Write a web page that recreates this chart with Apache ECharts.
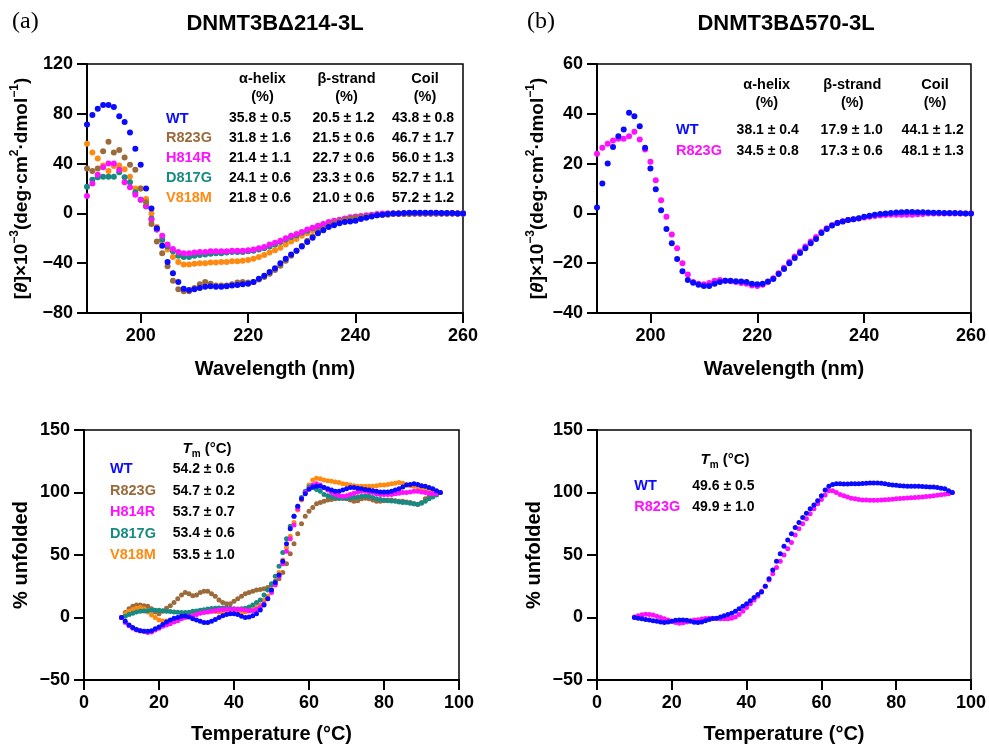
<!DOCTYPE html>
<html><head><meta charset="utf-8">
<script src="https://cdn.jsdelivr.net/npm/echarts@6/dist/echarts.min.js"></script>
<style>html,body{margin:0;padding:0;background:#fff}#c{width:989px;height:745px}</style>
</head><body><div id="c"></div>
<script>
// ---------- DATA ----------
const wavelength = [190,191,192,193,194,195,196,197,198,199,200,201,202,203,204,205,206,207,208,209,210,211,212,213,214,215,216,217,218,219,220,221,222,223,224,225,226,227,228,229,230,231,232,233,234,235,236,237,238,239,240,241,242,243,244,245,246,247,248,249,250,251,252,253,254,255,256,257,258,259,260];
const temperature = [10,11,12,13,14,15,16,17,18,19,20,21,22,23,24,25,26,27,28,29,30,31,32,33,34,35,36,37,38,39,40,41,42,43,44,45,46,47,48,49,50,51,52,53,54,55,56,57,58,59,60,61,62,63,64,65,66,67,68,69,70,71,72,73,74,75,76,77,78,79,80,81,82,83,84,85,86,87,88,89,90,91,92,93,94,95];

// Panel (a) top: CD spectra, DNMT3BΔ214-3L
const cdA_WT = [71.5,79,84,87,87,85.5,78,73.5,65,52, 39,20,4,-12,-26,-39,-48,-55,-60.5,-61.5, -61,-60,-59,-58.5,-59,-59,-58.5,-58,-57.5,-57, -56.5,-55,-52.5,-50,-47,-44,-40,-36.5,-33,-30, -26.5,-23,-19.5,-16,-13.5,-11,-9.5,-8,-7,-6.5, -6,-4.5,-3.5,-2.5,-1.5,-1,-0.5,0,0,0.3, 0.5,0.5,0.5,0.5,0.5,0.5,0.3,0.3,0.3,0, 0];
const cdA_R823G = [36,34,36,50,57.5,49,51,45,39,35, 20,9,-8.5,-22.5,-32,-42.5,-54,-61,-62.5,-62.5, -60,-57,-55,-56.5,-58,-58,-58,-57,-55.5,-55, -55.5,-55,-53,-51,-48.5,-45.5,-42,-38,-34,-30, -26,-22,-18.5,-15,-12.5,-10,-8,-6.5,-5,-4, -3.5,-3,-2.5,-2,-1.5,-1,-1,-0.5,-0.5,-0.5, -0.5,0,0,0,0,0,0,0,0,0, 0];
const cdA_H814R = [14,24,31,37,40,40,35,25,21,15, 11,6,-5,-13,-18,-25,-28.5,-31,-32,-32, -31.5,-31,-31,-30.5,-30.5,-30.5,-30.5,-30,-30,-30, -29.5,-29,-28,-27,-25,-23.5,-22,-20,-18,-16.5, -15,-13,-11.5,-10,-8.5,-7,-6,-5,-4,-3, -2.5,-2,-1.5,-1,-0.5,0,0,0,0,0, 0,0,0,0,0,0,0,0,0,0, 0];
const cdA_D817G = [21.5,27,29,29.5,29.5,29.5,33,29,25,17, 11,5.5,-4,-13,-21,-26.5,-30.5,-34,-35,-35, -34,-33.5,-33,-32.5,-32,-32,-31.5,-31,-31,-31, -30.5,-30,-29,-28,-26.5,-25,-23,-21,-19,-17.5, -15.5,-14,-12,-10.5,-9,-7.5,-6.5,-5.5,-4.5,-3.5, -3,-2.5,-2,-1.5,-1,-0.5,0,0,0,0, 0,0,0,0,0,0,0,0,0,0, 0];
const cdA_V818M = [56,49,44,38.5,34,38,38.5,35.5,29.5,20, 20,11.5,0,-11,-22,-29,-35,-39,-41,-41, -40.5,-40,-40,-39.5,-39.5,-39,-39,-38.5,-38.5,-38, -37.5,-36.5,-35,-33.5,-31.5,-29.5,-27.5,-25,-22.5,-20.5, -18,-16,-14,-12,-10.5,-9,-7.5,-6.5,-5.5,-4.5, -3.5,-3,-2.5,-2,-1.5,-1,-0.5,0,0,0, 0,0,0,0,0,0,0,0,0,0, 0];

// Panel (b) top: CD spectra, DNMT3BΔ570-3L
const cdB_WT = [2.4,12,20,26.7,31,33.7,40.4,39,35,26.4, 18,9.7,1.3,-6.3,-12,-18.3,-23.2,-26.7,-27.9,-28.7, -29.2,-29.2,-28.3,-27.6,-27,-27,-27.2,-27.3,-27.6,-28.3, -28.5,-28.3,-27.3,-26.3,-24.3,-22.3,-20,-17.9,-15.9,-14, -12,-10.3,-7.9,-6.3,-4.9,-3.9,-3.3,-2.7,-2.3,-1.9, -1.3,-0.9,-0.5,-0.2,0,0.2,0.4,0.5,0.6,0.6, 0.5,0.5,0.4,0.3,0.3,0.2,0.2,0.2,0.1,0, 0];
const cdB_R823G = [24,26.4,28,29.3,30,30,31,32.8,29.7,25.7, 20.7,13.3,5.3,-1.3,-8.5,-14,-20,-24.5,-27.5,-28.3, -28.5,-28,-27,-26.7,-27,-27.2,-27.6,-28,-28.3,-29, -29.2,-28.7,-27.5,-26,-24,-21.8,-19.5,-17.3,-15.3,-13.3, -11.3,-9.5,-7.5,-6,-4.8,-3.8,-3.2,-2.7,-2.3,-2, -1.6,-1.3,-1,-0.8,-0.6,-0.5,-0.5,-0.5,-0.5,-0.5, -0.3,-0.2,0,0,0,0,0,0,0,0, 0];

// Panel (a) bottom: thermal unfolding
const tmA_WT = [0,-3,-6,-8,-9.5,-10.5,-11,-11,-10.5,-9, -7.5,-5.5,-3.5,-2,-0.5,0,1,1.3,0.5,-1, -2,-3,-4,-4,-3,-1.5,0,1.5,2.5,3, 3,2.5,1,0,0.5,1.5,3,6,10,15, 22,28,34,45,59,71,81,89,95,99, 102.7,104.5,105,105,104,103,102,101,101,102, 103,104,104,103.5,103,102.5,102,101.5,101,100.5, 100.5,100.5,101,102,103,104.5,106,106.5,107,106.5, 105.5,105,104,103,101.5,100];
const tmA_R823G = [0,4,7,9,10,10,9.5,9,7,4.5, 3,5,7.5,9.5,12,15,18,20,19,17.5, 18,20,21,21,19,17,14,12,11,11, 13,15,17,19,20,21,22,22.5,23,24, 26,29,31,36,43,51,59,67,75,81, 85,88,91,92,93,94,94.5,95,95.5,95.5, 95,94,93,93.5,95,95.5,95,94,93,93, 93.5,94,94,93.5,93,93,92.5,92,91,90.5, 92,95,97,98,99,100];
const tmA_H814R = [0,-4,-6.5,-8.5,-10,-10.5,-11,-12,-11.5,-10, -8.5,-7,-6,-5,-3.5,-2.5,-1,0,1,1.5, 2.5,3.5,4,4.5,5,5.5,6,6.5,6.7,6.7, 6.7,6.7,6.5,6,5.5,5.5,6.5,8,11,15, 20,26,33,43,53,63,74,87,95,100, 103,106,107,106,104,102,100,98.5,97.5,97, 97.5,98.5,99.5,100.5,101,101,100.5,100,99,98.5, 98.5,98.5,98.5,99,99.5,100,100,100.5,101,101, 100.5,100,99.5,99,99.5,100];
const tmA_D817G = [0,1,2.5,3.5,4.5,5,5.3,5.5,5.8,5.9, 5.8,5.5,5,4.8,4.5,4.2,4,4,4.3,5, 5.3,5.8,6.3,6.8,7.2,7.5,7.6,7.6,7.6,7.4, 7,6.8,7,7.5,8.5,10,12,14,18,22, 27,33,41,52,63,73,81,89,96,101, 104.5,104,102.5,101,98.5,97.5,96.5,96,95.5,95.5, 95.5,95.5,96,96.5,97,97.3,97,96,95,94.5, 94,93.5,93.3,93,92.5,92,92,91.5,91,90.7, 91.5,93,95,96.5,98,100];
const tmA_V818M = [0,3,5,6.5,7.5,8,7,4.5,2,0, -2,-2.7,-2.8,-2.5,-2,-1,0.5,2,3,4, 4.8,5.3,5.5,5.3,5,4.8,4.5,4.2,4,4, 4,4,4,4.5,5.5,6.5,8,10,14,17, 22,27,36,46,56,65,76,86,94,100, 106,110,111.5,111,110,109.5,109,108.5,108,107, 106.7,106,105.5,105,105,105,105,105,105.5,106, 106,106.5,107,107.5,108,107.5,106.5,105.5,105,104.5, 103.5,102.7,102,101.5,100.8,100];

// Panel (b) bottom: thermal unfolding
const tmB_WT = [0,-0.5,-1,-1.5,-1.9,-2.5,-3,-3.5,-4,-3.5, -3,-2.2,-1.9,-1.9,-2.2,-3,-3.8,-4,-3.5,-2.5, -1.5,-0.8,-0.5,0.5,1.5,2.5,3.5,5,7,9, 11,13.5,16,18.5,20.5,25,31,38,45,51, 57,62,67,72,76,80,83.5,87,90,93.5, 97.5,102,105,106.5,107,107,106.8,106.8,107,107, 107,107.2,107.4,107.6,107.7,107.7,107.5,107,106.5,106, 105.9,105.5,105.3,105,105,105,105,104.8,104.6,104.5, 104.5,104,103.5,103,101.5,100];
const tmB_R823G = [0.5,1.5,2.3,2.7,2.5,2,1,0,-1,-2, -3,-4,-4.5,-4.2,-3.5,-2.5,-2,-1.8,-1.2,-0.8, -0.5,-0.5,-0.8,-1,-1,-1,-0.5,0.5,2.5,5, 8,11,14,17,21,25,30,35,40,45, 50,55,60,66,71,75,79,83,87,91, 94.5,98,101.5,101.5,100,98.5,97.5,96.5,95.5,95, 94.5,94,94,93.9,93.9,93.9,94,94.2,94.5,94.7, 95,95.2,95.4,95.6,95.8,96,96.2,96.5,96.8,97.1, 97.4,97.8,98.2,98.6,99,100];

// Tick values
const wlTicks = [200,220,240,260];

// Table texts
const namesA = ['WT','R823G','H814R','D817G','V818M'];
const helixA = ['35.8 ± 0.5','31.8 ± 1.6','21.4 ± 1.1','24.1 ± 0.6','21.8 ± 0.6'];
const strandA = ['20.5 ± 1.2','21.5 ± 0.6','22.7 ± 0.6','23.3 ± 0.6','21.0 ± 0.6'];
const coilA = ['43.8 ± 0.8','46.7 ± 1.7','56.0 ± 1.3','52.7 ± 1.1','57.2 ± 1.2'];
const namesB = ['WT','R823G'];
const helixB = ['38.1 ± 0.4','34.5 ± 0.8'];
const strandB = ['17.9 ± 1.0','17.3 ± 0.6'];
const coilB = ['44.1 ± 1.2','48.1 ± 1.3'];
const tmValsA = ['54.2 ± 0.6','54.7 ± 0.2','53.7 ± 0.7','53.4 ± 0.6','53.5 ± 1.0'];
const tmValsB = ['49.6 ± 0.5','49.9 ± 1.0'];

// ---------- STYLE ----------
const FF = "'Liberation Sans', Arial, Helvetica, sans-serif";
const COL = {WT:'#0a0aff', R823G:'#9c6b3c', H814R:'#ff10ff', D817G:'#178a82', V818M:'#ff8a12'};

const minusFmt = v => (v < 0 ? '\u2212' + Math.abs(v) : String(v));
const LBL = {color: '#000', fontSize: 18, fontWeight: 'bold', fontFamily: FF, margin: 14, formatter: minusFmt};

function axisBase(extra) {
  return Object.assign({
    type: 'value',
    axisLine: {show: true, onZero: false, lineStyle: {color: '#000', width: 2}},
    axisTick: {show: true, length: 10, lineStyle: {color: '#000', width: 2}},
    axisLabel: LBL,
    splitLine: {show: false},
    nameLocation: 'middle',
    nameTextStyle: {color: '#000', fontSize: 20, fontWeight: 'bold', fontFamily: FF}
  }, extra);
}

const thetaName = '{n|[}{i|θ}{n|]×10}{s|−3}{n|(deg·cm}{s|2}{n|·dmol}{s|−1}{n|)}';
const thetaRich = {
  n: {fontSize: 19, fontWeight: 'bold', fontFamily: FF, color: '#000', lineHeight: 26},
  i: {fontSize: 19, fontWeight: 'bold', fontStyle: 'italic', fontFamily: FF, color: '#000', lineHeight: 26},
  s: {fontSize: 12, fontWeight: 'bold', fontFamily: FF, color: '#000', lineHeight: 12, verticalAlign: 'top'}
};

const wlX = (gi) => axisBase({
  gridIndex: gi, min: 190, max: 260,
  axisTick: {show: true, length: 10, lineStyle: {color: '#000', width: 2}, customValues: wlTicks},
  axisLabel: Object.assign({}, LBL, {customValues: wlTicks}),
  name: 'Wavelength (nm)', nameGap: 46
});
const tX = (gi) => axisBase({gridIndex: gi, min: 0, max: 100, interval: 20, name: 'Temperature (°C)', nameGap: 44});

const xAxes = [wlX(0), wlX(1), tX(2), tX(3)];
const yAxes = [
  axisBase({gridIndex: 0, min: -80, max: 120, interval: 40, name: thetaName, nameGap: 52, nameTextStyle: {rich: thetaRich}}),
  axisBase({gridIndex: 1, min: -40, max: 60, interval: 20, name: thetaName, nameGap: 46, nameTextStyle: {rich: thetaRich}}),
  axisBase({gridIndex: 2, min: -50, max: 150, interval: 50, name: '% unfolded', nameGap: 53}),
  axisBase({gridIndex: 3, min: -50, max: 150, interval: 50, name: '% unfolded', nameGap: 53})
];

const gridStyle = {show: true, borderColor: '#000', borderWidth: 1.5, backgroundColor: 'transparent'};
const grids = [
  Object.assign({left: 87, top: 64, width: 376, height: 249}, gridStyle),
  Object.assign({left: 597, top: 64, width: 376, height: 249}, gridStyle),
  Object.assign({left: 84, top: 430, width: 375, height: 250}, gridStyle),
  Object.assign({left: 597, top: 430, width: 375, height: 250}, gridStyle)
];

const pts = (xs, ys) => xs.map((x, i) => [x, ys[i]]);
function sc(gi, xs, ys, key, size) {
  return {type: 'scatter', xAxisIndex: gi, yAxisIndex: gi, data: pts(xs, ys), symbolSize: size,
    itemStyle: {color: COL[key], opacity: 1}, silent: true, animation: false};
}
const series = [
  sc(0, wavelength, cdA_V818M, 'V818M', 6),
  sc(0, wavelength, cdA_D817G, 'D817G', 6),
  sc(0, wavelength, cdA_H814R, 'H814R', 6),
  sc(0, wavelength, cdA_R823G, 'R823G', 6),
  sc(0, wavelength, cdA_WT, 'WT', 6),
  sc(1, wavelength, cdB_R823G, 'H814R', 6),
  sc(1, wavelength, cdB_WT, 'WT', 6),
  sc(2, temperature, tmA_R823G, 'R823G', 5),
  sc(2, temperature, tmA_V818M, 'V818M', 5),
  sc(2, temperature, tmA_D817G, 'D817G', 5),
  sc(2, temperature, tmA_H814R, 'H814R', 5),
  sc(2, temperature, tmA_WT, 'WT', 5),
  sc(3, temperature, tmB_R823G, 'H814R', 5),
  sc(3, temperature, tmB_WT, 'WT', 5)
];

// ---------- TEXT ----------
function txt(x, y, text, color, align, size, family, weight) {
  const font = (weight || 'bold') + ' ' + size + 'px ' + (family || FF);
  return {type: 'text', x: x, y: y, silent: true, z: 100,
    style: {text: text, fill: color, font: font, align: align, verticalAlign: 'middle', textAlign: align, textVerticalAlign: 'middle'}};
}
const G = [];
G.push(txt(12, 22, '(a)', '#000', 'left', 24, "'Liberation Serif', 'Times New Roman', serif", 'normal'));
G.push(txt(275, 24, 'DNMT3BΔ214-3L', '#000', 'center', 22));
G.push(txt(527, 22, '(b)', '#000', 'left', 24, "'Liberation Serif', 'Times New Roman', serif", 'normal'));
G.push(txt(786, 24, 'DNMT3BΔ570-3L', '#000', 'center', 22));

// table a (top)
const hdrA = [['α-helix', 262.5], ['β-strand', 346.5], ['Coil', 425]];
hdrA.forEach(h => { G.push(txt(h[1], 79, h[0], '#000', 'center', 14.5)); G.push(txt(h[1], 97, '(%)', '#000', 'center', 14.5)); });
namesA.forEach((n, i) => {
  const y = 118.5 + i * 19.8;
  G.push(txt(166, y, n, COL[n], 'left', 14.5));
  G.push(txt(260, y, helixA[i], '#000', 'center', 14));
  G.push(txt(343.5, y, strandA[i], '#000', 'center', 14));
  G.push(txt(423, y, coilA[i], '#000', 'center', 14));
});
// table b (top)
const hdrB = [['α-helix', 766.7], ['β-strand', 852.3], ['Coil', 935]];
hdrB.forEach(h => { G.push(txt(h[1], 84.5, h[0], '#000', 'center', 14.5)); G.push(txt(h[1], 103, '(%)', '#000', 'center', 14.5)); });
const colB = [COL.WT, COL.H814R];
namesB.forEach((n, i) => {
  const y = 130 + i * 21;
  G.push(txt(676, y, n, colB[i], 'left', 14.5));
  G.push(txt(767.7, y, helixB[i], '#000', 'center', 14));
  G.push(txt(851.7, y, strandB[i], '#000', 'center', 14));
  G.push(txt(932.7, y, coilB[i], '#000', 'center', 14));
});
// Tm headers
function tmHeader(x, y) {
  return {type: 'text', x: x, y: y, silent: true, z: 100,
    style: {text: '{i|T}{s|m}{n| (°C)}', align: 'center', verticalAlign: 'middle', textAlign: 'center', textVerticalAlign: 'middle',
      rich: {
        i: {fontSize: 15, fontWeight: 'bold', fontStyle: 'italic', fontFamily: FF, fill: '#000', color: '#000', lineHeight: 20},
        s: {fontSize: 10, fontWeight: 'bold', fontFamily: FF, fill: '#000', color: '#000', lineHeight: 10, verticalAlign: 'bottom'},
        n: {fontSize: 15, fontWeight: 'bold', fontFamily: FF, fill: '#000', color: '#000', lineHeight: 20}
      }}};
}
G.push(tmHeader(207, 449));
namesA.forEach((n, i) => {
  const y = 469.3 + i * 21.4;
  G.push(txt(110, y, n, COL[n], 'left', 14.5));
  G.push(txt(172.7, y, tmValsA[i], '#000', 'left', 14));
});
G.push(tmHeader(725, 460));
namesB.forEach((n, i) => {
  const y = 485.7 + i * 21.6;
  G.push(txt(634.3, y, n, colB[i], 'left', 14.5));
  G.push(txt(692.3, y, tmValsB[i], '#000', 'left', 14));
});

const chart = echarts.init(document.getElementById('c'), null, {renderer: 'canvas'});
chart.setOption({
  animation: false,
  backgroundColor: '#fff',
  grid: grids,
  xAxis: xAxes,
  yAxis: yAxes,
  series: series,
  graphic: G
});
</script></body></html>
